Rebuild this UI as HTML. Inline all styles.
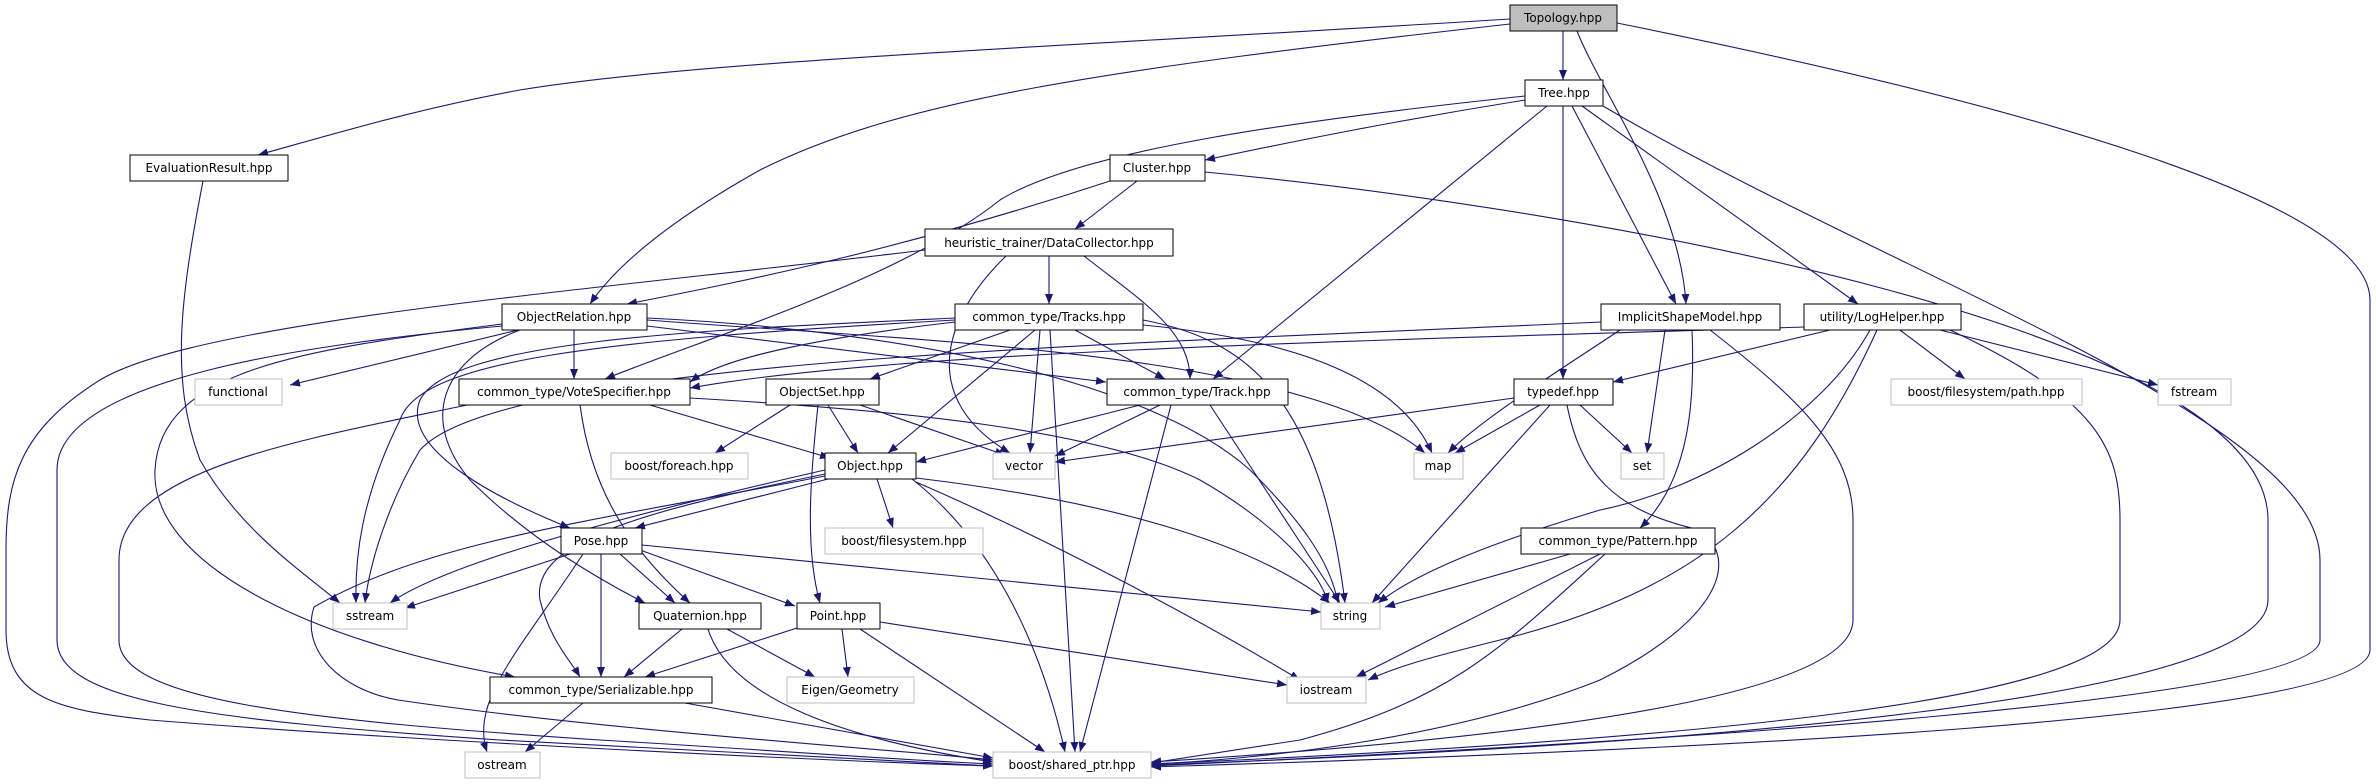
<!DOCTYPE html>
<html><head><meta charset="utf-8"><style>
html,body{margin:0;padding:0;background:#fff;}
svg{display:block;}
text{font-family:"DejaVu Sans","Liberation Sans",sans-serif;font-size:12px;fill:#000;text-anchor:middle;}
.e{fill:none;stroke:#191970;stroke-width:1.1;marker-end:url(#a);}
.n{fill:#fff;stroke:#000;stroke-width:1;}
.l{fill:#fff;stroke:#bfbfbf;stroke-width:1;}
</style></head><body>
<svg width="2376" height="784" viewBox="0 0 2376 784" xmlns="http://www.w3.org/2000/svg">
<defs><marker id="a" markerUnits="userSpaceOnUse" markerWidth="10" markerHeight="8" refX="10" refY="4" orient="auto"><path d="M0,0 L10,4 L0,8 z" fill="#191970"/></marker></defs>
<!-- edges -->
<path class="e" d="M1510,19 C1100,45 700,60 520,90 C420,108 330,135 258,155"/>
<path class="e" d="M1510,24 C1100,70 900,100 760,170 C680,215 620,260 590,304"/>
<path class="e" d="M1563,31 L1563,80"/>
<path class="e" d="M1577,31 C1600,90 1680,200 1686,304"/>
<path class="e" d="M1617,23 C2000,100 2370,200 2370,300 L2370,650 C2370,720 1700,750 1151,767"/>
<path class="e" d="M1525,100 C1400,120 1300,140 1205,160"/>
<path class="e" d="M1525,96 C1300,120 1080,150 1000,200 C900,280 700,340 605,379"/>
<path class="e" d="M1547,106 L1213,379"/>
<path class="e" d="M1563,106 L1563,379"/>
<path class="e" d="M1572,106 L1676,304"/>
<path class="e" d="M1582,106 L1858,304"/>
<path class="e" d="M1603,106 C1900,280 2320,420 2320,560 L2320,640 C2320,700 1700,740 1151,766"/>
<path class="e" d="M1205,172 C1600,210 2268,330 2268,520 L2268,600 C2268,700 1700,745 1151,765"/>
<path class="e" d="M1950,330 C2100,400 2120,450 2120,520 L2120,620 C2120,700 1700,740 1151,764"/>
<path class="e" d="M1710,330 C1800,400 1853,450 1853,520 L1853,620 C1853,700 1500,740 1151,762"/>
<path class="e" d="M203,181 C180,300 170,380 200,460 C240,530 300,570 340,603"/>
<path class="e" d="M1137,181 L1075,229"/>
<path class="e" d="M1110,181 C900,250 750,280 627,304"/>
<path class="e" d="M1049,256 L1049,304"/>
<path class="e" d="M1084,256 C1140,300 1190,330 1190,379"/>
<path class="e" d="M1006,256 C940,320 920,400 1010,453"/>
<path class="e" d="M925,250 C600,290 200,320 100,380 C20,430 6,480 6,550 L6,630 C6,700 60,710 150,720 C400,740 800,760 993,766"/>
<path class="e" d="M574,330 L574,379"/>
<path class="e" d="M518,330 L290,385"/>
<path class="e" d="M647,326 L1106,382"/>
<path class="e" d="M647,320 C900,340 1300,350 1425,453"/>
<path class="e" d="M502,326 C300,345 57,380 57,470 L57,640 C57,700 200,720 500,740 C800,755 900,762 993,766"/>
<path class="e" d="M502,324 C300,350 160,370 155,470 C150,560 300,640 515,677"/>
<path class="e" d="M520,330 C440,360 420,420 470,480 C530,540 600,580 645,603"/>
<path class="e" d="M647,318 C900,330 1150,380 1250,470 C1300,520 1330,560 1338,603"/>
<path class="e" d="M1010,330 L870,379"/>
<path class="e" d="M1035,330 L888,453"/>
<path class="e" d="M1075,330 L1165,379"/>
<path class="e" d="M1040,330 L1030,453"/>
<path class="e" d="M1050,330 L1075,752"/>
<path class="e" d="M1143,325 C1300,340 1400,380 1432,453"/>
<path class="e" d="M1143,320 C1250,340 1320,400 1345,603"/>
<path class="e" d="M955,322 C800,340 720,360 690,382"/>
<path class="e" d="M955,318 C700,330 450,340 420,400 C400,450 500,500 570,528"/>
<path class="e" d="M955,320 C600,340 420,360 400,420 C360,500 355,560 356,603"/>
<path class="e" d="M1601,322 C1100,345 500,360 420,450 C390,500 370,560 365,603"/>
<path class="e" d="M1804,327 C1400,340 900,350 690,388"/>
<path class="e" d="M1620,330 C1560,370 1480,420 1448,453"/>
<path class="e" d="M1665,330 L1647,453"/>
<path class="e" d="M1692,330 C1695,400 1690,480 1640,528"/>
<path class="e" d="M1830,330 L1613,382"/>
<path class="e" d="M1900,330 L1965,379"/>
<path class="e" d="M1940,330 L2158,385"/>
<path class="e" d="M1870,330 C1820,420 1700,490 1600,510 C1500,540 1420,570 1378,603"/>
<path class="e" d="M1877,330 C1800,500 1700,590 1500,640 C1440,655 1400,665 1368,680"/>
<path class="e" d="M650,405 L830,458"/>
<path class="e" d="M580,405 C590,480 620,540 690,603"/>
<path class="e" d="M690,398 C900,410 1100,430 1200,480 C1270,520 1320,570 1328,603"/>
<path class="e" d="M467,405 C300,440 119,470 119,560 L119,640 C119,700 300,720 600,740 C800,752 900,760 993,764"/>
<path class="e" d="M790,405 L715,453"/>
<path class="e" d="M828,405 L858,453"/>
<path class="e" d="M860,405 L1005,455"/>
<path class="e" d="M818,405 C810,480 805,550 820,603"/>
<path class="e" d="M1140,405 L916,462"/>
<path class="e" d="M1160,405 L1055,456"/>
<path class="e" d="M1210,405 L1340,603"/>
<path class="e" d="M1171,405 L1080,752"/>
<path class="e" d="M1514,398 L1055,462"/>
<path class="e" d="M1540,405 L1455,453"/>
<path class="e" d="M1580,405 L1632,453"/>
<path class="e" d="M1550,405 L1372,603"/>
<path class="e" d="M1567,405 C1580,470 1610,510 1700,530 C1740,560 1720,620 1600,680 C1450,740 1250,760 1151,764"/>
<path class="e" d="M828,479 L635,528"/>
<path class="e" d="M877,479 L893,528"/>
<path class="e" d="M825,470 C650,510 450,560 390,603"/>
<path class="e" d="M825,474 C650,510 530,540 540,600 C550,640 570,660 580,677"/>
<path class="e" d="M825,476 C600,520 430,540 314,607 C300,650 340,690 398,700 C600,730 900,750 993,760"/>
<path class="e" d="M916,478 C1100,500 1250,540 1330,603"/>
<path class="e" d="M916,482 C1050,540 1200,620 1300,680"/>
<path class="e" d="M912,479 C990,540 1040,640 1065,752"/>
<path class="e" d="M570,554 L405,608"/>
<path class="e" d="M620,554 L675,603"/>
<path class="e" d="M640,550 L795,606"/>
<path class="e" d="M601,554 L601,677"/>
<path class="e" d="M642,545 L1321,612"/>
<path class="e" d="M583,554 C520,650 470,700 487,752"/>
<path class="e" d="M682,629 L624,677"/>
<path class="e" d="M727,629 L815,677"/>
<path class="e" d="M708,629 C730,700 850,740 993,762"/>
<path class="e" d="M797,628 L645,677"/>
<path class="e" d="M842,629 L848,677"/>
<path class="e" d="M880,622 L1287,685"/>
<path class="e" d="M860,629 L1045,752"/>
<path class="e" d="M583,703 L525,752"/>
<path class="e" d="M685,703 L993,758"/>
<path class="e" d="M1570,554 L1385,607"/>
<path class="e" d="M1600,554 L1356,677"/>
<path class="e" d="M1605,554 C1500,650 1450,700 1300,740 L1151,763"/>
<!-- nodes -->
<rect x="1510" y="5" width="107" height="26" fill="#bfbfbf" stroke="#000"/><text x="1563" y="22">Topology.hpp</text>
<rect class="n" x="1525" y="80" width="78" height="26"/><text x="1564" y="97">Tree.hpp</text>
<rect class="n" x="130" y="155" width="158" height="26"/><text x="209" y="172">EvaluationResult.hpp</text>
<rect class="n" x="1110" y="155" width="95" height="26"/><text x="1157" y="172">Cluster.hpp</text>
<rect class="n" x="925" y="229" width="248" height="27"/><text x="1049" y="247">heuristic_trainer/DataCollector.hpp</text>
<rect class="n" x="502" y="304" width="145" height="26"/><text x="574" y="321">ObjectRelation.hpp</text>
<rect class="n" x="955" y="304" width="188" height="26"/><text x="1049" y="321">common_type/Tracks.hpp</text>
<rect class="n" x="1601" y="304" width="179" height="26"/><text x="1690" y="321">ImplicitShapeModel.hpp</text>
<rect class="n" x="1804" y="304" width="157" height="26"/><text x="1882" y="321">utility/LogHelper.hpp</text>
<rect class="l" x="195" y="379" width="87" height="26"/><text x="238" y="396">functional</text>
<rect class="n" x="459" y="379" width="231" height="26"/><text x="574" y="396">common_type/VoteSpecifier.hpp</text>
<rect class="n" x="766" y="379" width="113" height="26"/><text x="822" y="396">ObjectSet.hpp</text>
<rect class="n" x="1107" y="379" width="181" height="26"/><text x="1197" y="396">common_type/Track.hpp</text>
<rect class="n" x="1514" y="379" width="99" height="26"/><text x="1563" y="396">typedef.hpp</text>
<rect class="l" x="1891" y="379" width="191" height="26"/><text x="1986" y="396">boost/filesystem/path.hpp</text>
<rect class="l" x="2158" y="379" width="73" height="26"/><text x="2194" y="396">fstream</text>
<rect class="l" x="611" y="453" width="137" height="26"/><text x="679" y="470">boost/foreach.hpp</text>
<rect class="n" x="825" y="453" width="91" height="26"/><text x="870" y="470">Object.hpp</text>
<rect class="l" x="993" y="453" width="62" height="26"/><text x="1024" y="470">vector</text>
<rect class="l" x="1414" y="453" width="49" height="26"/><text x="1438" y="470">map</text>
<rect class="l" x="1621" y="453" width="43" height="26"/><text x="1642" y="470">set</text>
<rect class="n" x="561" y="528" width="81" height="26"/><text x="601" y="545">Pose.hpp</text>
<rect class="l" x="825" y="528" width="158" height="26"/><text x="904" y="545">boost/filesystem.hpp</text>
<rect class="n" x="1521" y="528" width="194" height="26"/><text x="1618" y="545">common_type/Pattern.hpp</text>
<rect class="l" x="333" y="603" width="74" height="26"/><text x="370" y="620">sstream</text>
<rect class="n" x="639" y="603" width="122" height="26"/><text x="700" y="620">Quaternion.hpp</text>
<rect class="n" x="797" y="603" width="83" height="26"/><text x="838" y="620">Point.hpp</text>
<rect class="l" x="1321" y="603" width="59" height="26"/><text x="1350" y="620">string</text>
<rect class="n" x="490" y="677" width="222" height="26"/><text x="601" y="694">common_type/Serializable.hpp</text>
<rect class="l" x="787" y="677" width="127" height="26"/><text x="850" y="694">Eigen/Geometry</text>
<rect class="l" x="1287" y="677" width="79" height="26"/><text x="1326" y="694">iostream</text>
<rect class="l" x="465" y="752" width="75" height="26"/><text x="502" y="769">ostream</text>
<rect class="l" x="993" y="752" width="158" height="26"/><text x="1072" y="769">boost/shared_ptr.hpp</text>
</svg>
</body></html>
